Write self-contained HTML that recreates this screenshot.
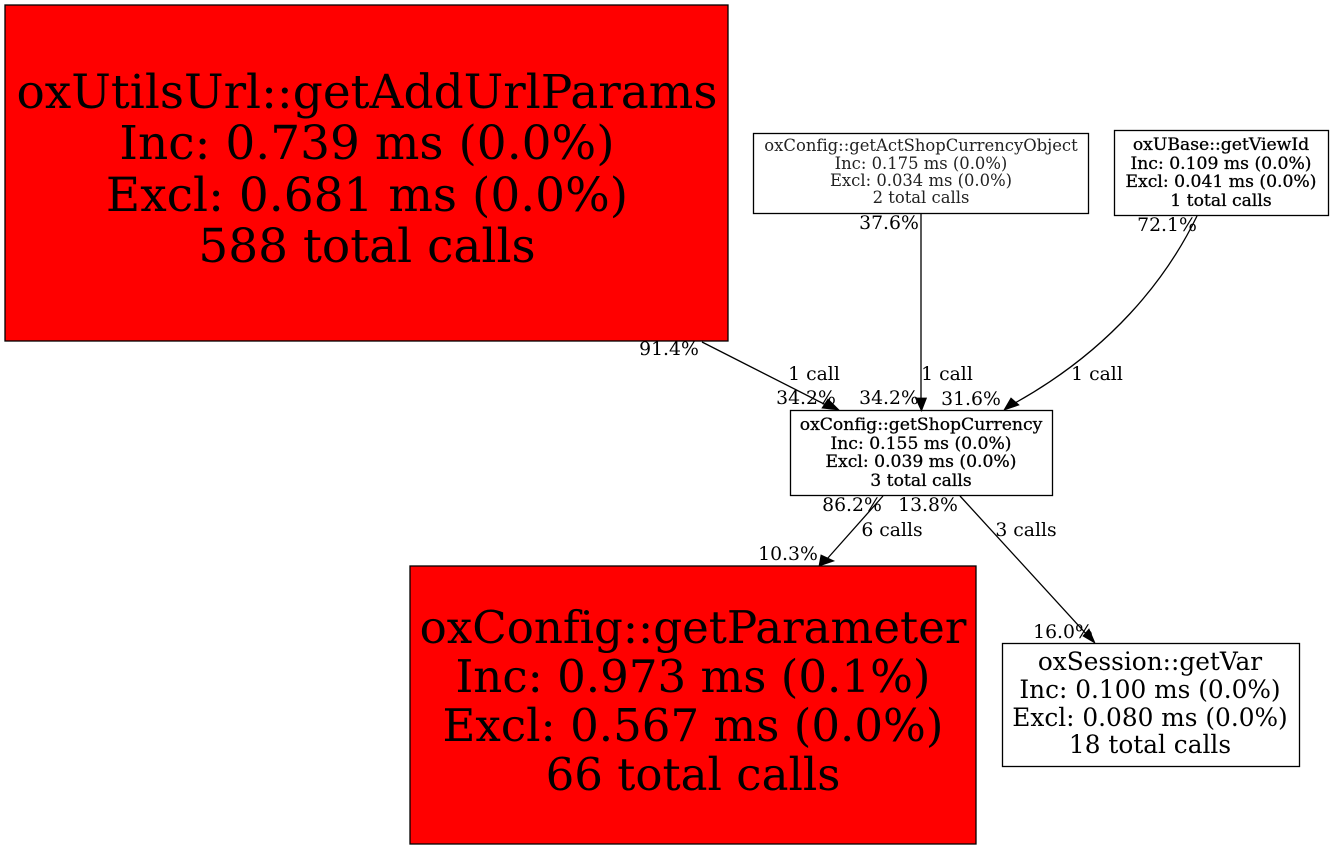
<!DOCTYPE html>
<html><head><meta charset="utf-8"><style>
html,body{margin:0;padding:0;background:#fff}
svg{display:block}
text{font-family:"DejaVu Serif",serif;fill:#000;text-anchor:middle;font-variant-ligatures:none}
.l{font-size:18.8px}
.a{font-size:47px}.b{font-size:45.1px}.c{font-size:24.8px}.d{font-size:16.4px;fill:#222}.e{font-size:17.2px;stroke:#000;stroke-width:.3px}
</style></head><body>
<svg width="1333" height="851" viewBox="0 0 1333 851" xmlns="http://www.w3.org/2000/svg">
<rect width="1333" height="851" fill="#fff"/>
<g stroke="#000" stroke-width="1.3">
<rect x="5" y="5" width="723" height="336" fill="#f00"/>
<rect x="753.5" y="133.5" width="335" height="80" fill="#fff"/>
<rect x="1114.5" y="130.5" width="214" height="85" fill="#fff"/>
<rect x="790.5" y="410.5" width="262" height="85" fill="#fff"/>
<rect x="410" y="566" width="566" height="278" fill="#f00"/>
<rect x="1002.5" y="643.5" width="297" height="123" fill="#fff"/>
<g fill="none">
<path d="M702 342L826 405"/>
<path d="M921 213V398"/>
<path d="M1197 216C1166 280 1110 350 1015 403"/>
<path d="M883 496L827 559"/>
<path d="M960 496L1089 637"/>
</g>
</g>
<g fill="#000" stroke="#000" stroke-width=".8">
<path d="M828 399L839 410L822 408Z"/>
<path d="M915.5 398L926.5 398L921.5 411Z"/>
<path d="M1011 398L1004 410L1019 405Z"/>
<path d="M821 555L819 566L834 561Z"/>
<path d="M1089 629L1095 643L1083 636Z"/>
</g>
<text class="a" x="367" y="108">oxUtilsUrl::getAddUrlParams</text>
<text class="a" x="367" y="159">Inc: 0.739 ms (0.0%)</text>
<text class="a" x="367" y="211">Excl: 0.681 ms (0.0%)</text>
<text class="a" x="367" y="262">588 total calls</text>
<text class="b" x="693" y="643">oxConfig::getParameter</text>
<text class="b" x="693" y="692">Inc: 0.973 ms (0.1%)</text>
<text class="b" x="693" y="741">Excl: 0.567 ms (0.0%)</text>
<text class="b" x="693" y="790">66 total calls</text>
<text class="c" x="1150" y="670">oxSession::getVar</text>
<text class="c" x="1150" y="698">Inc: 0.100 ms (0.0%)</text>
<text class="c" x="1150" y="726">Excl: 0.080 ms (0.0%)</text>
<text class="c" x="1150" y="753">18 total calls</text>
<text class="d" x="921" y="151">oxConfig::getActShopCurrencyObject</text>
<text class="d" x="921" y="169">Inc: 0.175 ms (0.0%)</text>
<text class="d" x="921" y="186">Excl: 0.034 ms (0.0%)</text>
<text class="d" x="921" y="203">2 total calls</text>
<text class="e" x="1221" y="150">oxUBase::getViewId</text>
<text class="e" x="1221" y="169">Inc: 0.109 ms (0.0%)</text>
<text class="e" x="1221" y="187">Excl: 0.041 ms (0.0%)</text>
<text class="e" x="1221" y="206">1 total calls</text>
<text class="e" x="921" y="430">oxConfig::getShopCurrency</text>
<text class="e" x="921" y="449">Inc: 0.155 ms (0.0%)</text>
<text class="e" x="921" y="467">Excl: 0.039 ms (0.0%)</text>
<text class="e" x="921" y="486">3 total calls</text>
<text class="l" x="669" y="355">91.4%</text>
<text class="l" x="814" y="380">1 call</text>
<text class="l" x="806" y="404">34.2%</text>
<text class="l" x="889" y="229">37.6%</text>
<text class="l" x="947" y="380">1 call</text>
<text class="l" x="889" y="404">34.2%</text>
<text class="l" x="1167" y="231">72.1%</text>
<text class="l" x="1097" y="380">1 call</text>
<text class="l" x="971" y="405">31.6%</text>
<text class="l" x="852" y="511">86.2%</text>
<text class="l" x="928" y="511">13.8%</text>
<text class="l" x="892" y="536">6 calls</text>
<text class="l" x="1026" y="536">3 calls</text>
<text class="l" x="788" y="560">10.3%</text>
<text class="l" x="1063" y="638">16.0%</text>
</svg>
</body></html>
